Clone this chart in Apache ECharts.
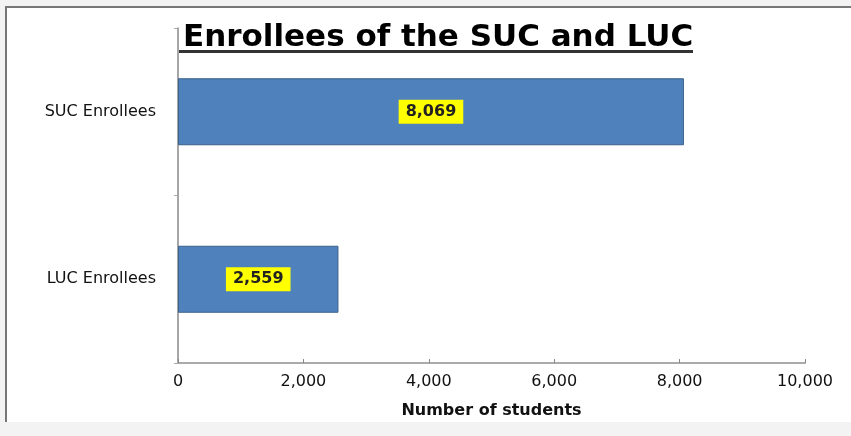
<!DOCTYPE html>
<html>
<head>
<meta charset="utf-8">
<script src="https://cdn.jsdelivr.net/npm/echarts@6/dist/echarts.min.js"></script>
<style>
    html, body { margin: 0; padding: 0; background: #f3f3f3; }
    #frame {
        position: absolute; left: 5px; top: 6px; width: 846px; height: 414px;
        background: #fff; border-top: 2px solid #777; border-left: 2px solid #777;
    }
    #chart { position: absolute; left: 0; top: 0; width: 851px; height: 436px; }
</style>
</head>
<body>
<div id="frame"></div>
<div id="chart"></div>
<script>
const categories = ["LUC Enrollees", "SUC Enrollees"]
const enrollees = [2559, 8069]
const xTicks = [0, 2000, 4000, 6000, 8000, 10000]

const font = 'DejaVu Sans'
let chart = echarts.init(document.getElementById("chart"))
let option = {
    backgroundColor: 'transparent',
    title: {
        text: 'Enrollees of the SUC and LUC',
        left: 178,
        top: 17,
        textStyle: {
            fontFamily: font,
            fontWeight: 'bold',
            fontSize: 31,
            color: '#000'
        }
    },
    graphic: [
        {
            type: 'rect',
            shape: { x: 179, y: 50, width: 514, height: 3 },
            style: { fill: '#333' }
        }
    ],
    grid: {
        left: 178,
        right: 46,
        top: 28,
        bottom: 73
    },
    xAxis: {
        type: 'value',
        min: 0,
        max: 10000,
        interval: 2000,
        name: 'Number of students',
        nameLocation: 'middle',
        nameGap: 40,
        nameTextStyle: {
            fontFamily: font,
            fontWeight: 'bold',
            fontSize: 16,
            color: '#111'
        },
        axisLine: { show: true, lineStyle: { color: '#aaa', width: 2 } },
        axisTick: { show: true, inside: true, length: 4, lineStyle: { color: '#888' } },
        splitLine: { show: false },
        axisLabel: {
            fontFamily: font,
            fontSize: 16,
            color: '#111',
            margin: 11,
            formatter: v => xTicks.includes(v) ? v.toLocaleString('en-US') : ''
        }
    },
    yAxis: {
        type: 'category',
        data: categories,
        axisLine: { show: true, lineStyle: { color: '#888', width: 1.5 } },
        axisTick: { show: true, length: 4, lineStyle: { color: '#aaa' } },
        axisLabel: {
            fontFamily: font,
            fontSize: 16,
            color: '#111',
            margin: 22
        }
    },
    series: [
        {
            type: 'bar',
            data: enrollees,
            barWidth: '40%',
            itemStyle: {
                color: '#4f81bd',
                borderColor: '#3b6189',
                borderWidth: 1
            },
            label: {
                show: true,
                position: 'inside',
                formatter: p => p.value.toLocaleString('en-US'),
                backgroundColor: '#ffff00',
                padding: [5, 7, 3, 7],
                fontFamily: font,
                fontWeight: 'bold',
                fontSize: 16,
                color: '#222'
            }
        }
    ]
}
chart.setOption(option)
</script>
</body>
</html>
